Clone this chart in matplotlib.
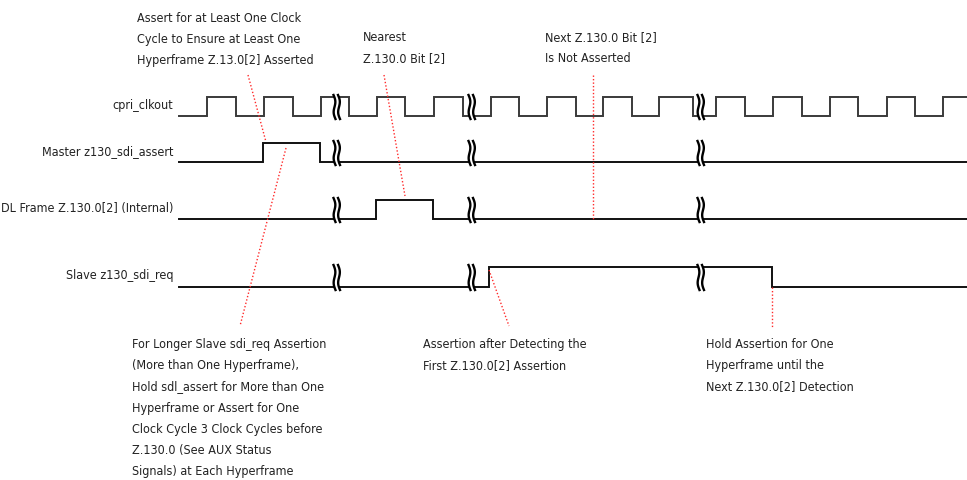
import numpy as np
import matplotlib
matplotlib.use("Agg")
import matplotlib.pyplot as plt
from matplotlib import font_manager

plt.rcParams['font.family'] = ['DejaVu Sans']
plt.rcParams['font.stretch'] = 'condensed'
print([f.name + ' ' + str(f.stretch) for f in font_manager.fontManager.ttflist
       if 'Narrow' in f.name or 'Condensed' in f.fname or 'Narrow' in f.fname])

# signal names and their waveforms (x of each edge, signal starts low)
names = ["cpri_clkout", "Master z130_sdi_assert",
         "DL Frame Z.130.0[2] (Internal)", "Slave z130_sdi_req"]
y_high = [97, 143, 200, 267]
y_low = [116, 162, 219, 287]
clk_edges = [207, 236, 264, 293, 321, 349, 377, 405, 434, 463, 491, 519,
             547, 576, 603, 632, 659, 693, 716, 745, 773, 802, 830, 858,
             887, 915, 943]
master_edges = [263, 320]
dl_edges = [376, 433]
slave_edges = [489, 772]
edges = [clk_edges, master_edges, dl_edges, slave_edges]
x_start, x_end = 179, 967
breaks = [336, 471, 700]

# annotations: (x, first baseline, lines)
notes = [
    (137, 21.7, ["Assert for at Least One Clock",
                 "Cycle to Ensure at Least One",
                 "Hyperframe Z.13.0[2] Asserted"]),
    (363, 40.7, ["Nearest", "Z.130.0 Bit [2]"]),
    (545, 40.7, ["Next Z.130.0 Bit [2]", "Is Not Asserted"]),
    (132, 348.3, ["For Longer Slave sdi_req Assertion",
                  "(More than One Hyperframe),",
                  "Hold sdl_assert for More than One",
                  "Hyperframe or Assert for One",
                  "Clock Cycle 3 Clock Cycles before",
                  "Z.130.0 (See AUX Status",
                  "Signals) at Each Hyperframe"]),
    (423, 348.3, ["Assertion after Detecting the",
                  "First Z.130.0[2] Assertion"]),
    (706, 348.3, ["Hold Assertion for One",
                  "Hyperframe until the",
                  "Next Z.130.0[2] Detection"]),
]
line_gap = 21.1

# red leader lines: ((x0, y0), (x1, y1))
leaders = [((248, 75), (266, 142)),
           ((384, 75), (405, 196)),
           ((593, 75), (593, 219)),
           ((286, 148), (240, 326)),
           ((489, 270), (509, 326)),
           ((772, 287), (772, 327))]

fig = plt.figure(figsize=(9.67, 4.8), dpi=100)
ax = fig.add_axes([0, 0, 1, 1])
ax.set_xlim(0, 967)
ax.set_ylim(480, 0)
ax.axis('off')

for i, name in enumerate(names):
    xs = [x_start]
    ys = [y_low[i]]
    level = 0
    for e in edges[i]:
        cur = y_high[i] if level else y_low[i]
        xs += [e, e]
        level = 1 - level
        ys += [cur, y_high[i] if level else y_low[i]]
    xs.append(x_end)
    ys.append(y_high[i] if level else y_low[i])
    col = '#3a3a3a' if i == 0 else '#111111'
    ax.plot(xs, ys, color=col, lw=1.4, solid_joinstyle='miter', zorder=2)
    ax.text(173, (y_high[i] + y_low[i]) / 2 - 1, name, ha='right', va='center',
            fontsize=9, color='#222222')

    # break marks
    t = np.linspace(0, 1, 40)
    for b in breaks:
        yy = (y_high[i] - 2) + t * (y_low[i] - y_high[i] + 5)
        w = 1.3 * np.sin(2 * np.pi * t) + 2.0 * t
        xl = b - 2.5 + w
        xr = b + 2.0 + w
        ax.fill_betweenx(yy, xl, xr, color='white', lw=0, zorder=3)
        ax.plot(xl, yy, color='black', lw=1.7, zorder=4)
        ax.plot(xr, yy, color='black', lw=1.7, zorder=4)

for (x0, y0), (x1, y1) in leaders:
    ax.plot([x0, x1], [y0, y1], color='#ff2a2a', lw=1.0,
            linestyle=(0, (1, 1.5)), zorder=5)

for x, y0, lines in notes:
    for k, s in enumerate(lines):
        ax.text(x, y0 + k * line_gap, s, ha='left', va='baseline',
                fontsize=9, color='#222222')

fig.savefig('out.png', dpi=100)
